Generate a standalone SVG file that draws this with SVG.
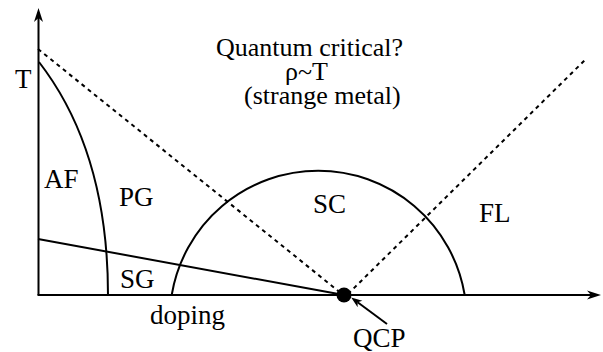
<svg xmlns="http://www.w3.org/2000/svg" width="603" height="352" viewBox="0 0 603 352">
<style>
text{font-family:"Liberation Serif","DejaVu Serif",serif;font-size:27px;fill:#000}
.qc{font-size:26px}
.solid{fill:none;stroke:#000;stroke-width:2}
.dash{fill:none;stroke:#000;stroke-width:2;stroke-dasharray:4 4}
</style>
<defs>
<marker id="big" markerUnits="userSpaceOnUse" markerWidth="16" markerHeight="12" viewBox="0 -6 16 12" refX="4" refY="0" orient="auto">
<path d="M14,0 L0,-4.5 L4,0 L0,4.5 Z" fill="#000"/>
</marker>
<marker id="small" markerUnits="userSpaceOnUse" markerWidth="12" markerHeight="10" viewBox="0 -5 12 10" refX="3" refY="0" orient="auto">
<path d="M11,0 L0,-4 L3,0 L0,4 Z" fill="#000"/>
</marker>
</defs>
<g id="connectors">
<line id="y-axis" class="solid" x1="38.5" y1="295" x2="38.5" y2="18" marker-end="url(#big)"/>
<line id="x-axis" class="solid" x1="37.5" y1="295" x2="591" y2="295" marker-end="url(#big)"/>
<path id="af-boundary" class="solid" d="M39,62 C80,115 108,190 108,295"/>
<line id="sg-boundary" class="solid" x1="38" y1="239" x2="344" y2="295"/>
<path id="sc-dome" class="solid" d="M171.7,295 A148.5,148.5 0 0 1 464.7,295"/>
<line id="crossover-left" class="dash" x1="38" y1="49" x2="342" y2="294"/>
<line id="crossover-right" class="dash" x1="348" y1="294" x2="587" y2="58"/>
<line id="qcp-arrow" class="solid" x1="387" y1="324" x2="357.6" y2="302.2" stroke-width="1.8" marker-end="url(#small)"/>
</g>
<g id="qcp-dot"><circle cx="344" cy="295" r="7.5" fill="#000"/></g>
<g id="label-T"><text x="15" y="88" font-family="Liberation Serif, serif">T</text></g>
<g id="label-qc" font-family="Liberation Serif, serif">
<text class="qc" x="216" y="55.5">Quantum critical?</text>
<text class="qc" x="285" y="80">ρ~T</text>
<text class="qc" x="244" y="103.5">(strange metal)</text>
</g>
<g id="label-AF"><text x="44" y="188" font-family="Liberation Serif, serif">AF</text></g>
<g id="label-PG"><text x="119" y="205.5" font-family="Liberation Serif, serif">PG</text></g>
<g id="label-SC"><text x="313" y="213.3" font-family="Liberation Serif, serif">SC</text></g>
<g id="label-FL"><text x="479" y="222.3" font-family="Liberation Serif, serif">FL</text></g>
<g id="label-SG"><text x="120" y="287.5" font-family="Liberation Serif, serif">SG</text></g>
<g id="label-doping"><text x="150" y="324" font-family="Liberation Serif, serif">doping</text></g>
<g id="label-QCP"><text x="353" y="347" font-family="Liberation Serif, serif">QCP</text></g>
</svg>
